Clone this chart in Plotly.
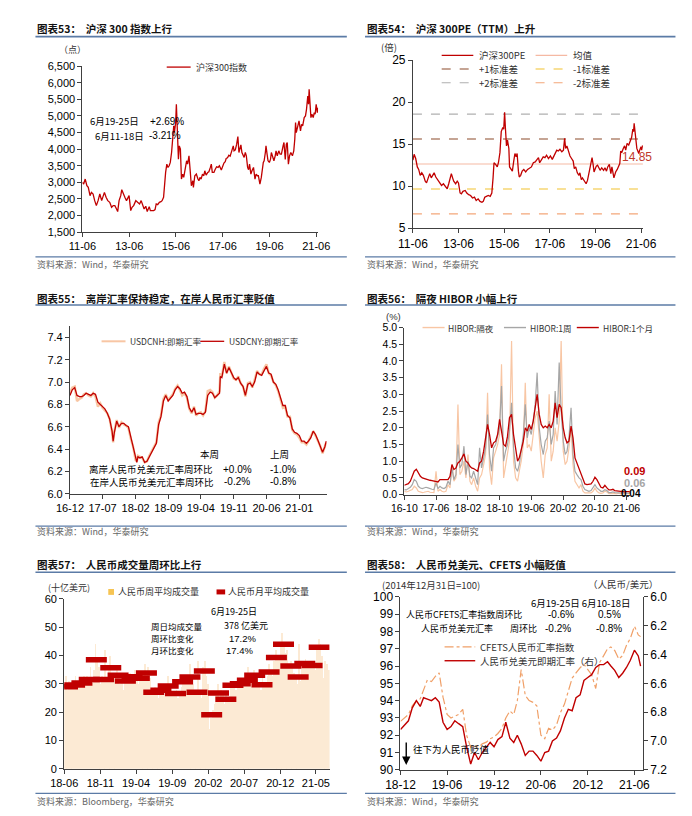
import plotly.graph_objects as go
import pandas as pd

W, H = 692, 816
def px(x): return x / W
def py(y): return 1 - y / H

# ================= DATA =================
# 图表53: 沪深300指数 (date, value)
CSI300 = [("2011-06-01",3000),("2011-06-20",2950),("2011-07-15",3100),("2011-08-10",2900),("2011-09-01",2850),("2011-09-28",2600),("2011-10-20",2700),("2011-11-15",2650),("2011-12-10",2450),("2012-01-05",2300),("2012-02-01",2450),("2012-02-28",2650),("2012-03-28",2450),("2012-04-25",2650),("2012-05-10",2700),("2012-06-05",2550),("2012-07-01",2450),("2012-08-01",2400),("2012-08-30",2250),("2012-09-25",2300),("2012-10-20",2300),("2012-11-15",2200),("2012-12-03",2120),("2012-12-25",2450),("2013-01-20",2600),("2013-02-05",2780),("2013-02-28",2650),("2013-03-25",2550),("2013-04-20",2450),("2013-05-15",2550),("2013-05-30",2600),("2013-06-25",2150),("2013-07-15",2250),("2013-08-10",2300),("2013-09-12",2450),("2013-10-10",2400),("2013-11-10",2350),("2013-12-05",2450),("2013-12-31",2300),("2014-01-20",2200),("2014-02-15",2280),("2014-03-10",2120),("2014-04-10",2270),("2014-04-28",2150),("2014-05-20",2150),("2014-06-20",2150),("2014-07-10",2180),("2014-07-28",2350),("2014-08-20",2330),("2014-09-15",2400),("2014-10-10",2420),("2014-10-28",2450),("2014-11-20",2550),("2014-12-08",3200),("2014-12-22",3300),("2015-01-10",3550),("2015-01-28",3450),("2015-02-15",3500),("2015-03-05",3600),("2015-03-25",3900),("2015-04-15",4400),("2015-04-28",4700),("2015-05-08",4500),("2015-05-28",4800),("2015-06-08",5350),("2015-06-20",4700),("2015-07-03",4050),("2015-07-10",3700),("2015-07-24",4100),("2015-08-10",4000),("2015-08-26",3100),("2015-09-15",3250),("2015-10-01",3150),("2015-10-28",3500),("2015-11-15",3650),("2015-12-01",3550),("2015-12-22",3800),("2016-01-08",3400),("2016-01-28",2900),("2016-02-20",3050),("2016-02-29",2850),("2016-03-22",3200),("2016-04-15",3250),("2016-05-10",3100),("2016-05-25",3050),("2016-06-10",3150),("2016-06-28",3100),("2016-07-20",3250),("2016-08-10",3200),("2016-08-25",3350),("2016-09-15",3220),("2016-10-10",3300),("2016-10-28",3320),("2016-11-20",3450),("2016-12-05",3550),("2016-12-20",3300),("2017-01-15",3300),("2017-02-01",3380),("2017-02-25",3470),("2017-03-20",3450),("2017-04-10",3500),("2017-05-10",3370),("2017-05-31",3480),("2017-06-20",3580),("2017-07-10",3620),("2017-07-25",3720),("2017-08-15",3740),("2017-09-05",3820),("2017-09-25",3790),("2017-10-20",3950),("2017-11-13",4100),("2017-11-25",3950),("2017-12-15",3980),("2018-01-05",4150),("2018-01-24",4380),("2018-02-09",3900),("2018-02-28",4050),("2018-03-12",4130),("2018-03-28",3900),("2018-04-15",3800),("2018-05-02",3750),("2018-05-20",3900),("2018-06-05",3800),("2018-06-25",3450),("2018-07-10",3380),("2018-07-25",3550),("2018-08-15",3250),("2018-09-01",3350),("2018-09-25",3450),("2018-10-18",3100),("2018-11-05",3250),("2018-11-25",3200),("2018-12-10",3200),("2019-01-03",2950),("2019-01-25",3150),("2019-02-25",3600),("2019-03-10",3650),("2019-03-29",3900),("2019-04-08",4100),("2019-04-25",3850),("2019-05-10",3650),("2019-05-31",3600),("2019-06-18",3700),("2019-07-01",3900),("2019-07-20",3800),("2019-08-10",3650),("2019-08-30",3800),("2019-09-12",3950),("2019-10-01",3800),("2019-10-25",3950),("2019-11-15",3850),("2019-12-05",3850),("2019-12-31",4100),("2020-01-14",4200),("2020-02-03",3690),("2020-02-20",4150),("2020-03-05",4200),("2020-03-23",3550),("2020-04-10",3800),("2020-04-30",3900),("2020-05-25",3800),("2020-06-15",3950),("2020-07-01",4300),("2020-07-13",4800),("2020-07-24",4500),("2020-08-20",4700),("2020-09-05",4850),("2020-09-28",4550),("2020-10-15",4750),("2020-11-01",4700),("2020-11-25",4950),("2020-12-15",5000),("2020-12-31",5200),("2021-01-20",5600),("2021-02-01",5350),("2021-02-10",5800),("2021-02-25",5300),("2021-03-10",4950),("2021-03-25",5050),("2021-04-15",4950),("2021-05-01",5100),("2021-05-15",5050),("2021-05-31",5350),("2021-06-10",5250),("2021-06-18",5100),("2021-06-25",5250)]
CSI_TICKS = ["2011-06-01","2013-06-01","2015-06-01","2017-06-01","2019-06-01","2021-06-01"]

# 图表54: 沪深300PE (date, value)
PE300 = [("2011-06-01",13.1),("2011-06-20",13.8),("2011-07-15",13.3),("2011-08-10",12.3),("2011-09-01",12.0),("2011-09-25",11.3),("2011-10-20",11.6),("2011-11-15",11.3),("2011-12-15",10.6),("2012-01-05",10.4),("2012-02-01",11.0),("2012-02-25",11.5),("2012-03-20",11.0),("2012-04-20",11.4),("2012-05-05",11.6),("2012-06-01",11.1),("2012-07-01",10.8),("2012-08-01",10.5),("2012-09-01",10.1),("2012-10-01",10.3),("2012-11-01",10.0),("2012-12-01",9.7),("2012-12-25",10.3),("2013-01-20",11.0),("2013-02-05",11.5),("2013-02-25",11.0),("2013-03-15",10.6),("2013-04-15",10.3),("2013-05-10",10.6),("2013-05-30",10.4),("2013-06-25",9.2),("2013-07-15",9.1),("2013-08-10",9.4),("2013-09-15",9.5),("2013-10-10",9.2),("2013-11-10",9.0),("2013-12-10",8.9),("2014-01-10",8.6),("2014-02-10",8.7),("2014-03-10",8.3),("2014-04-10",8.5),("2014-05-10",8.2),("2014-06-10",8.1),("2014-07-01",8.2),("2014-07-25",8.7),("2014-08-20",8.8),("2014-09-20",8.9),("2014-10-20",8.8),("2014-11-15",9.2),("2014-12-05",11.0),("2014-12-20",12.8),("2015-01-15",12.6),("2015-02-10",12.3),("2015-03-01",12.8),("2015-03-25",14.0),("2015-04-15",16.5),("2015-05-10",17.0),("2015-05-25",16.8),("2015-06-08",18.8),("2015-06-20",17.0),("2015-07-08",14.8),("2015-07-24",15.5),("2015-08-15",14.5),("2015-08-26",12.3),("2015-09-15",12.0),("2015-10-10",11.8),("2015-11-01",13.0),("2015-11-20",13.9),("2015-12-10",13.5),("2015-12-25",13.9),("2016-01-15",11.8),("2016-01-28",11.1),("2016-02-20",11.3),("2016-03-15",11.8),("2016-04-10",12.0),("2016-05-10",11.7),("2016-06-10",12.0),("2016-07-10",12.2),("2016-08-10",12.3),("2016-09-10",12.8),("2016-10-10",12.9),("2016-11-10",13.2),("2016-12-01",13.4),("2016-12-20",12.8),("2017-01-15",13.1),("2017-02-15",13.5),("2017-03-15",13.4),("2017-04-10",13.7),("2017-05-10",13.3),("2017-06-10",13.6),("2017-07-10",13.2),("2017-08-01",13.6),("2017-08-25",14.0),("2017-09-20",14.3),("2017-10-15",14.2),("2017-11-10",14.4),("2017-12-10",14.1),("2018-01-05",14.3),("2018-01-24",15.7),("2018-02-09",14.5),("2018-03-01",14.8),("2018-03-25",14.2),("2018-04-20",13.6),("2018-05-15",13.3),("2018-06-10",13.0),("2018-06-28",12.1),("2018-07-20",12.3),("2018-08-15",11.6),("2018-09-10",11.3),("2018-09-25",11.6),("2018-10-18",10.8),("2018-11-05",11.0),("2018-11-25",10.8),("2018-12-15",10.6),("2019-01-03",10.3),("2019-01-25",10.7),("2019-02-20",11.6),("2019-03-10",12.3),("2019-04-08",13.4),("2019-04-25",12.6),("2019-05-10",11.7),("2019-05-25",12.0),("2019-06-15",12.4),("2019-07-05",12.5),("2019-07-25",12.1),("2019-08-15",11.9),("2019-09-10",12.2),("2019-10-10",11.9),("2019-11-01",12.2),("2019-11-25",11.8),("2019-12-15",12.3),("2020-01-10",12.6),("2020-02-03",11.5),("2020-02-20",12.3),("2020-03-23",11.0),("2020-04-20",11.7),("2020-05-15",12.0),("2020-06-10",12.5),("2020-06-25",12.7),("2020-07-10",14.2),("2020-07-25",14.0),("2020-08-20",14.5),("2020-09-10",14.8),("2020-09-28",14.3),("2020-10-20",15.1),("2020-11-15",14.9),("2020-12-10",15.5),("2020-12-31",15.8),("2021-01-20",16.8),("2021-02-01",16.5),("2021-02-10",17.5),("2021-02-25",16.2),("2021-03-10",15.2),("2021-03-25",14.5),("2021-04-10",14.2),("2021-04-25",13.9),("2021-05-10",14.3),("2021-05-31",14.7),("2021-06-10",14.3),("2021-06-25",14.85)]
PE_MEAN = 12.65
PE_SD = 2.97
PE_LAST_LABEL = "14.85"

# 图表55: (date, USDCNY, USDCNH)
FX55 = [("2016-12-01",6.88,6.90),("2016-12-16",6.93,6.95),("2017-01-01",6.95,6.96),("2017-01-16",6.88,6.83),("2017-02-01",6.87,6.85),("2017-02-16",6.87,6.86),("2017-03-01",6.88,6.89),("2017-03-16",6.90,6.90),("2017-04-01",6.89,6.88),("2017-04-16",6.88,6.87),("2017-05-01",6.90,6.90),("2017-05-16",6.89,6.87),("2017-06-01",6.82,6.78),("2017-06-16",6.80,6.81),("2017-07-01",6.78,6.77),("2017-07-16",6.76,6.75),("2017-08-01",6.72,6.72),("2017-08-16",6.67,6.67),("2017-09-01",6.56,6.55),("2017-09-08",6.47,6.46),("2017-09-16",6.55,6.56),("2017-10-01",6.65,6.66),("2017-10-16",6.60,6.59),("2017-11-01",6.63,6.64),("2017-11-16",6.63,6.62),("2017-12-01",6.61,6.61),("2017-12-16",6.60,6.59),("2018-01-01",6.50,6.49),("2018-01-16",6.43,6.42),("2018-02-01",6.31,6.30),("2018-02-09",6.28,6.29),("2018-02-16",6.33,6.34),("2018-03-01",6.32,6.33),("2018-03-16",6.33,6.32),("2018-04-01",6.28,6.28),("2018-04-16",6.29,6.29),("2018-05-01",6.33,6.34),("2018-05-16",6.37,6.38),("2018-06-01",6.40,6.41),("2018-06-16",6.45,6.46),("2018-07-01",6.62,6.64),("2018-07-16",6.69,6.70),("2018-08-01",6.83,6.85),("2018-08-16",6.88,6.89),("2018-09-01",6.83,6.84),("2018-09-16",6.86,6.87),("2018-10-01",6.88,6.89),("2018-10-16",6.93,6.94),("2018-11-01",6.96,6.97),("2018-11-16",6.94,6.93),("2018-12-01",6.90,6.88),("2018-12-16",6.91,6.90),("2019-01-01",6.87,6.86),("2019-01-16",6.77,6.76),("2019-02-01",6.73,6.72),("2019-02-16",6.77,6.78),("2019-03-01",6.71,6.70),("2019-03-16",6.72,6.72),("2019-04-01",6.72,6.73),("2019-04-16",6.71,6.70),("2019-05-01",6.73,6.74),("2019-05-16",6.88,6.92),("2019-06-01",6.91,6.93),("2019-06-16",6.90,6.91),("2019-07-01",6.86,6.86),("2019-07-16",6.88,6.88),("2019-08-01",6.90,6.92),("2019-08-06",7.05,7.08),("2019-08-16",7.04,7.05),("2019-09-01",7.16,7.18),("2019-09-16",7.08,7.08),("2019-10-01",7.13,7.14),("2019-10-16",7.09,7.08),("2019-11-01",7.04,7.03),("2019-11-16",7.02,7.02),("2019-12-01",7.04,7.05),("2019-12-16",6.99,6.99),("2020-01-01",6.96,6.96),("2020-01-16",6.88,6.87),("2020-02-01",6.98,6.99),("2020-02-16",6.99,7.00),("2020-03-01",6.96,6.95),("2020-03-16",7.00,7.02),("2020-04-01",7.09,7.10),("2020-04-16",7.07,7.07),("2020-05-01",7.06,7.07),("2020-05-16",7.10,7.12),("2020-06-01",7.14,7.16),("2020-06-16",7.08,7.08),("2020-07-01",7.07,7.06),("2020-07-16",7.00,7.00),("2020-08-01",6.98,6.97),("2020-08-16",6.93,6.92),("2020-09-01",6.85,6.83),("2020-09-16",6.79,6.77),("2020-10-01",6.79,6.78),("2020-10-16",6.70,6.69),("2020-11-01",6.68,6.69),("2020-11-16",6.58,6.57),("2020-12-01",6.55,6.54),("2020-12-16",6.54,6.53),("2021-01-01",6.52,6.50),("2021-01-16",6.47,6.46),("2021-02-01",6.47,6.46),("2021-02-16",6.45,6.44),("2021-03-01",6.47,6.47),("2021-03-16",6.50,6.51),("2021-04-01",6.56,6.56),("2021-04-16",6.53,6.52),("2021-05-01",6.48,6.48),("2021-05-16",6.43,6.43),("2021-06-01",6.37,6.36),("2021-06-16",6.42,6.42),("2021-06-25",6.47,6.46)]
FX55_TICKS = ["2016-12-01","2017-07-01","2018-02-01","2018-09-01","2019-04-01","2019-11-01","2020-06-01","2021-01-01"]

# 图表56: HIBOR (date, 隔夜, 1周, 1个月)
HIBOR = [("2016-10-01",0.10,0.15,0.28),("2016-10-16",0.08,0.14,0.30),("2016-11-01",0.10,0.18,0.33),("2016-11-16",0.12,0.22,0.40),("2016-12-01",0.15,0.30,0.55),("2016-12-16",0.25,0.45,0.70),("2017-01-01",0.20,0.40,0.76),("2017-01-16",0.10,0.25,0.65),("2017-02-01",0.08,0.20,0.55),("2017-02-16",0.06,0.18,0.50),("2017-03-01",0.07,0.20,0.48),("2017-03-16",0.08,0.22,0.47),("2017-04-01",0.10,0.20,0.45),("2017-04-16",0.07,0.17,0.43),("2017-05-01",0.06,0.16,0.42),("2017-05-16",0.06,0.15,0.40),("2017-06-01",0.70,0.35,0.40),("2017-06-16",0.10,0.18,0.38),("2017-07-01",0.15,0.25,0.45),("2017-07-16",0.10,0.20,0.45),("2017-08-01",0.08,0.18,0.44),("2017-08-16",0.10,0.22,0.45),("2017-09-01",0.30,0.40,0.45),("2017-09-16",0.20,0.30,0.55),("2017-10-01",0.90,0.80,0.90),("2017-10-16",0.40,0.45,0.75),("2017-11-01",0.50,0.60,0.80),("2017-11-16",2.70,1.50,0.95),("2017-12-01",0.60,0.80,1.00),("2017-12-16",0.70,0.90,1.10),("2018-01-01",1.00,1.45,1.22),("2018-01-16",0.50,0.60,1.00),("2018-02-01",1.20,1.00,0.95),("2018-02-16",0.40,0.55,0.85),("2018-03-01",0.30,0.50,0.80),("2018-03-16",0.50,0.70,0.78),("2018-04-01",0.25,0.45,0.75),("2018-04-16",0.10,0.30,0.70),("2018-05-01",0.50,1.40,0.95),("2018-05-16",0.60,0.80,1.00),("2018-06-01",0.90,1.10,1.30),("2018-06-16",1.20,1.40,1.70),("2018-07-01",3.05,2.40,2.10),("2018-07-16",0.80,1.20,1.80),("2018-08-01",0.30,0.70,1.40),("2018-08-16",1.10,1.40,1.55),("2018-09-01",1.30,1.50,1.60),("2018-09-16",1.50,1.80,1.80),("2018-10-01",1.80,2.00,2.25),("2018-10-16",3.90,3.25,1.90),("2018-11-01",0.50,1.00,1.50),("2018-11-16",0.90,1.30,1.45),("2018-12-01",1.20,1.50,1.75),("2018-12-16",1.60,1.90,2.30),("2019-01-01",4.60,2.75,2.40),("2019-01-16",1.00,1.40,1.80),("2019-02-01",0.50,0.80,1.30),("2019-02-16",0.40,0.70,1.00),("2019-03-01",0.70,0.90,1.10),("2019-03-16",1.00,1.30,1.35),("2019-04-01",1.50,1.80,1.60),("2019-04-16",3.35,2.70,2.00),("2019-05-01",1.40,1.70,1.90),("2019-05-16",1.50,2.00,2.10),("2019-06-01",1.30,1.80,1.95),("2019-06-16",1.80,2.20,2.20),("2019-07-01",2.30,2.70,2.60),("2019-07-16",2.50,3.65,3.00),("2019-08-01",1.60,2.00,2.40),("2019-08-16",1.00,1.50,2.10),("2019-09-01",0.50,1.20,2.00),("2019-09-16",1.20,1.60,2.05),("2019-10-01",1.40,1.70,2.00),("2019-10-16",3.00,2.20,2.10),("2019-11-01",1.00,1.50,2.00),("2019-11-16",1.30,1.80,2.20),("2019-12-01",2.00,3.10,2.75),("2019-12-16",1.60,2.10,2.30),("2020-01-01",2.20,3.95,2.70),("2020-01-16",4.60,2.50,2.60),("2020-02-01",1.30,1.60,2.00),("2020-02-16",0.90,1.20,1.70),("2020-03-01",1.00,1.30,1.55),("2020-03-16",1.40,1.70,1.60),("2020-04-01",2.00,2.60,2.05),("2020-04-16",0.90,1.20,1.70),("2020-05-01",0.40,0.70,1.10),("2020-05-16",0.30,0.60,0.95),("2020-06-01",0.20,0.50,0.80),("2020-06-16",0.30,0.45,0.65),("2020-07-01",0.10,0.25,0.45),("2020-07-16",0.05,0.15,0.32),("2020-08-01",0.05,0.12,0.30),("2020-08-16",0.04,0.10,0.30),("2020-09-01",0.05,0.12,0.32),("2020-09-16",0.10,0.20,0.40),("2020-10-01",0.20,0.30,0.52),("2020-10-16",0.10,0.20,0.45),("2020-11-01",0.05,0.15,0.35),("2020-11-16",0.04,0.10,0.22),("2020-12-01",0.05,0.10,0.20),("2020-12-16",0.10,0.15,0.28),("2021-01-01",0.08,0.12,0.20),("2021-01-16",0.03,0.06,0.14),("2021-02-01",0.03,0.06,0.14),("2021-02-16",0.05,0.08,0.16),("2021-03-01",0.03,0.06,0.12),("2021-03-16",0.02,0.05,0.11),("2021-04-01",0.04,0.06,0.12),("2021-04-16",0.02,0.05,0.10),("2021-05-01",0.03,0.05,0.10),("2021-05-16",0.02,0.04,0.08),("2021-06-01",0.03,0.05,0.09),("2021-06-16",0.02,0.04,0.08),("2021-06-25",0.04,0.06,0.09)]
HIBOR_TICKS = ["2016-10-01","2017-06-01","2018-02-01","2018-10-01","2019-06-01","2020-02-01","2020-10-01","2021-06-01"]
HIBOR_LAST = ["0.09", "0.06", "0.04"]

# 图表57: 人民币周平均成交量 (weekly from 2018-06-01) and 月平均成交量
VOL_START = "2018-06-01"
VOL_WEEKLY = [30,33,28,31, 29,31,30,33,31, 29,32,31,33,30, 33,30,36,31, 35,44,38,36, 30,33,31,42,32, 36,40,34,31,
              33,35,32,30,34, 28,33,31,32, 34,32,31,35,33, 30,33,34,31, 37,33,36,32, 28,26,29,27,25, 27,30,28,26,
              30,33,28,29, 27,26,28,25,27, 29,33,31,30, 32,37,31,30, 28,26,38,27,25,
              36,38,33,30, 14,18,21,23, 26,30,25,28,27, 23,26,25,24, 29,30,31,28, 30,32,29,31,30,
              31,36,30,33, 33,35,32,34, 30,28,32,29,30, 33,37,34,33, 38,42,40,39, 45,48,44,41,42,
              36,38,37,34, 33,30,44,31, 38,36,39,37,36, 37,36,38,35, 42,46,44,40, 32,38,37,35]
VOL_MONTHS = ["2018-06-15","2018-07-15","2018-08-15","2018-09-15","2018-10-15","2018-11-15","2018-12-15",
              "2019-01-15","2019-02-15","2019-03-15","2019-04-15","2019-05-15","2019-06-15","2019-07-15",
              "2019-08-15","2019-09-15","2019-10-15","2019-11-15","2019-12-15","2020-01-15","2020-02-15",
              "2020-03-15","2020-04-15","2020-05-15","2020-06-15","2020-07-15","2020-08-15","2020-09-15",
              "2020-10-15","2020-11-15","2020-12-15","2021-01-15","2021-02-15","2021-03-15","2021-04-15","2021-05-15"]
VOL_MONTHLY = [29.0,29.6,30.3,31.5,38.5,31.5,35.7,33.0,31.0,32.5,32.0,33.8,27.0,27.7,29.2,26.6,30.7,32.4,
               27.0,34.5,19.1,26.8,24.6,29.5,30.0,31.3,33.0,29.7,34.2,39.3,44.0,36.3,32.4,37.2,36.5,42.9]
VOL_TICKS = ["2018-06-01","2018-11-01","2019-04-01","2019-09-01","2020-02-01","2020-07-01","2020-12-01","2021-05-01"]

# 图表58: (date, CFETS index, USDCNY)
CFETS = [("2018-12-01",92.8,6.92),("2018-12-16",93.0,6.89),("2019-01-01",93.2,6.86),("2019-01-16",93.7,6.77),("2019-02-01",94.0,6.72),("2019-02-16",94.1,6.76),("2019-03-01",94.6,6.70),("2019-03-16",95.2,6.71),("2019-04-01",95.1,6.72),("2019-04-16",95.4,6.70),("2019-05-01",95.6,6.73),("2019-05-16",94.2,6.87),("2019-06-01",93.2,6.92),("2019-06-16",93.0,6.90),("2019-07-01",93.1,6.86),("2019-07-16",93.2,6.88),("2019-08-01",93.5,6.90),("2019-08-16",92.0,7.04),("2019-09-01",91.3,7.16),("2019-09-16",91.4,7.08),("2019-10-01",91.3,7.13),("2019-10-16",91.5,7.08),("2019-11-01",91.6,7.04),("2019-11-16",91.8,7.01),("2019-12-01",91.9,7.04),("2019-12-16",92.1,6.99),("2020-01-01",92.4,6.97),("2020-01-16",93.0,6.87),("2020-02-01",93.4,6.98),("2020-02-16",93.2,7.01),("2020-03-01",94.0,6.96),("2020-03-16",95.8,7.02),("2020-04-01",94.3,7.10),("2020-04-16",94.0,7.07),("2020-05-01",93.9,7.07),("2020-05-16",93.7,7.10),("2020-06-01",92.0,7.14),("2020-06-16",91.8,7.08),("2020-07-01",92.4,7.07),("2020-07-16",92.3,7.00),("2020-08-01",92.6,6.98),("2020-08-16",93.3,6.93),("2020-09-01",93.8,6.84),("2020-09-16",94.6,6.78),("2020-10-01",95.3,6.79),("2020-10-16",95.6,6.70),("2020-11-01",95.9,6.68),("2020-11-16",96.1,6.58),("2020-12-01",95.8,6.56),("2020-12-16",95.5,6.54),("2021-01-01",94.7,6.49),("2021-01-16",96.2,6.47),("2021-02-01",96.6,6.47),("2021-02-16",97.0,6.45),("2021-03-01",97.1,6.48),("2021-03-16",96.9,6.51),("2021-04-01",96.4,6.56),("2021-04-16",96.6,6.53),("2021-05-01",97.2,6.49),("2021-05-16",97.6,6.44),("2021-06-01",98.3,6.37),("2021-06-16",97.8,6.41),("2021-06-25",97.7,6.48)]
CFETS_TICKS = ["2018-12-01","2019-06-01","2019-12-01","2020-06-01","2020-12-01","2021-06-01"]

# ================= STYLE =================
FONT = "'Liberation Sans', Arial, 'Noto Sans CJK SC', sans-serif"
CJK = "'Noto Sans CJK SC', 'Liberation Sans', sans-serif"
RED = "#C00000"
PEACH = "#F8C6A4"
GRAY = "#A6A6A6"
AXC = "#404040"
RULE = "#5B7BA6"

fig = go.Figure()

def xax(x0, x1, rng, ticks, anchor, size=11):
    return dict(domain=[px(x0), px(x1)], type="date", range=rng, tickvals=ticks, tickformat="%y-%m",
                showgrid=False, zeroline=False, showline=True, linecolor=AXC, linewidth=1,
                ticks="outside", ticklen=4, tickcolor=AXC, anchor=anchor,
                tickfont=dict(size=size, color="#000", family=FONT))

def yax(top, bottom, rng, dtick, fmt, anchor, size=11, **kw):
    d = dict(domain=[py(bottom), py(top)], range=rng, dtick=dtick, tickformat=fmt,
             showgrid=False, zeroline=False, showline=True, linecolor=AXC, linewidth=1,
             ticks="outside", ticklen=4, tickcolor=AXC, anchor=anchor,
             tickfont=dict(size=size, color="#000", family=FONT))
    d.update(kw)
    return d

# ---- Panel 53
d, v = zip(*CSI300)
fig.add_trace(go.Scatter(x=d, y=v, mode="lines", line=dict(color=RED, width=1.3), xaxis="x", yaxis="y"))

# ---- Panel 54
d, v = zip(*PE300)
fig.add_trace(go.Scatter(x=d, y=v, mode="lines", line=dict(color=RED, width=1.3), xaxis="x2", yaxis="y2"))

# ---- Panel 55
d, cny, cnh = zip(*FX55)
fig.add_trace(go.Scatter(x=d, y=cnh, mode="lines", line=dict(color=PEACH, width=2.4), xaxis="x3", yaxis="y3"))
fig.add_trace(go.Scatter(x=d, y=cny, mode="lines", line=dict(color=RED, width=1.3), xaxis="x3", yaxis="y3"))

# ---- Panel 56
d, on, w1, m1 = zip(*HIBOR)
fig.add_trace(go.Scatter(x=d, y=on, mode="lines", line=dict(color=PEACH, width=1.2), xaxis="x4", yaxis="y4"))
fig.add_trace(go.Scatter(x=d, y=w1, mode="lines", line=dict(color=GRAY, width=1.2), xaxis="x4", yaxis="y4"))
fig.add_trace(go.Scatter(x=d, y=m1, mode="lines", line=dict(color=RED, width=1.3), xaxis="x4", yaxis="y4"))

# ---- Panel 57
wk_dates = pd.date_range(VOL_START, periods=len(VOL_WEEKLY), freq="7D")
fig.add_trace(go.Bar(x=wk_dates, y=VOL_WEEKLY, marker=dict(color="#FCEAD4", line=dict(width=0)),
                     width=3.5 * 86400000, xaxis="x5", yaxis="y5"))
fig.add_trace(go.Scatter(x=VOL_MONTHS, y=VOL_MONTHLY, mode="markers",
                         marker=dict(symbol="line-ew", size=15, line=dict(width=5.5, color=RED)),
                         xaxis="x5", yaxis="y5"))

# ---- Panel 58
d, cf, usd = zip(*CFETS)
fig.add_trace(go.Scatter(x=d, y=cf, mode="lines", line=dict(color="#F0A068", width=1.2, dash="dashdot"),
                         xaxis="x6", yaxis="y6"))
fig.add_trace(go.Scatter(x=d, y=usd, mode="lines", line=dict(color=RED, width=1.4), xaxis="x6", yaxis="y7"))

fig.update_layout(
    width=W, height=H, margin=dict(l=0, r=0, t=0, b=0), paper_bgcolor="white", plot_bgcolor="white",
    showlegend=False, bargap=0,
    xaxis=xax(62, 308, ["2011-06-01", "2021-06-30"], CSI_TICKS, "y"),
    yaxis=yax(52, 221, [1500, 6500], 500, ",", "x"),
    xaxis2=xax(407, 647, ["2011-06-01", "2021-06-30"], CSI_TICKS, "y2", size=12),
    yaxis2=yax(46, 217, [5, 25], 5, "d", "x2", size=12),
    xaxis3=xax(49, 317, ["2016-12-01", "2021-06-28"], FX55_TICKS, "y3"),
    yaxis3=yax(316.7, 487, [6.0, 7.5], None, ".1f", "x3", tickvals=[6.0, 6.2, 6.4, 6.6, 6.8, 7.0, 7.2, 7.4]),
    xaxis4=xax(398, 634, ["2016-10-01", "2021-06-30"], HIBOR_TICKS, "y4", size=10.5),
    yaxis4=yax(318, 488, [0, 5], 0.5, ".1f", "x4", size=10.5),
    xaxis5=xax(43, 320, ["2018-06-01", "2021-06-28"], VOL_TICKS, "y5"),
    yaxis5=yax(594, 767, [0, 60], 10, "d", "x5"),
    xaxis6=xax(394, 647, ["2018-12-01", "2021-07-04"], CFETS_TICKS, "y6", size=12),
    yaxis6=yax(592, 768, [90, 100], 1, "d", "x6", size=12),
    yaxis7=yax(592, 768, [7.2, 6.0], None, ".1f", "x6", size=12, overlaying="y6", side="right",
               tickvals=[6.0, 6.2, 6.4, 6.6, 6.8, 7.0, 7.2]),
)

shapes = []
ann = []

def text(x, y, s, size=10, color="#000", anchor="left", font=CJK, bold=False):
    ann.append(dict(x=px(x), y=py(y), xref="paper", yref="paper", text=("<b>%s</b>" % s) if bold else s,
                    showarrow=False, xanchor=anchor, yanchor="middle",
                    font=dict(size=size, color=color, family=font)))

def hline(x0, x1, y, color, width=1.2, dash="solid"):
    shapes.append(dict(type="line", xref="paper", yref="paper", x0=px(x0), x1=px(x1), y0=py(y), y1=py(y),
                       line=dict(color=color, width=width, dash=dash)))

# Titles, rules, sources
TITLES = [
    (13, 14, 22, 246, 254, 338, "图表53：  沪深 300 指数上行", "资料来源：Wind，华泰研究"),
    (357, 14, 22, 246, 254, 681, "图表54：  沪深 300PE（TTM）上升", "资料来源：Wind，华泰研究"),
    (13, 288, 295, 520, 526, 338, "图表55：  离岸汇率保持稳定，在岸人民币汇率贬值", "资料来源：Wind，华泰研究"),
    (357, 288, 295, 520, 526, 681, "图表56：  隔夜 HIBOR 小幅上行", "资料来源：Wind，华泰研究"),
    (13, 559, 567, 792, 800, 338, "图表57：  人民币成交量周环比上行", "资料来源：Bloomberg，华泰研究"),
    (357, 559, 567, 792, 800, 681, "图表58：  人民币兑美元、CFETS 小幅贬值", "资料来源：Wind，华泰研究"),
]
for x0, ty, ly, fy, sy, x1, t, s in TITLES:
    text(x0, ty, t, size=10.5, color="#111", bold=True)
    hline(x0, x1, ly, RULE, width=1.6)
    hline(x0, x1, fy, RULE, width=1.2)
    text(x0, sy, s, size=9, color="#666")

# ---- Panel 53 texts
text(35, 35, "（点）", size=9, color="#333")
hline(150, 175, 53, RED, width=1.3)
text(178, 53, "沪深300指数", size=9, color="#333")
text(68, 108, "6月19-25日", size=9.5)
text(130, 108, "+2.69%", size=10, font=FONT)
text(73, 123, "6月11-18日", size=9.5)
text(129, 123, "-3.21%", size=10, font=FONT)

# ---- Panel 54 texts
text(372, 33, "(倍)", size=9.5, color="#333")
leg54 = [(437, 41, RED, "solid", 1.3, "沪深300PE"), (535, 41, "#F5B9A3", "solid", 1.3, "均值"),
         (437, 55, "#8B4A2B", "dash", 1.1, "+1标准差"), (535, 55, "#F2C12E", "dash", 1.1, "-1标准差"),
         (437, 69, "#B0B0B0", "dash", 1.1, "+2标准差"), (535, 69, "#F4A77A", "dash", 1.1, "-2标准差")]
for lx, ly, c, ds, wd, lab in leg54:
    hline(lx, lx + 33, ly, c, width=wd, dash=ds)
    text(lx + 37, ly, lab, size=9.5, color="#333")
pe_lines = [(PE_MEAN, "#F5B9A3", "solid"), (PE_MEAN + PE_SD, "#8B4A2B", "dash"),
            (PE_MEAN - PE_SD, "#F2C12E", "dash"), (PE_MEAN + 2 * PE_SD, "#B0B0B0", "dash"),
            (PE_MEAN - 2 * PE_SD, "#F4A77A", "dash")]
for val, c, ds in pe_lines:
    shapes.append(dict(type="line", xref="x2 domain", yref="y2", x0=0, x1=1, y0=val, y1=val,
                       line=dict(color=c, width=1.1, dash=ds), layer="below"))
text(641, 144, PE_LAST_LABEL, size=12, color="#C0392B", anchor="center", font=FONT)

# ---- Panel 55 texts
hline(82, 107, 332, PEACH, width=2)
text(110, 332, "USDCNH:即期汇率", size=8.5, color="#333")
hline(185, 210, 332, RED, width=1.3)
text(213, 332, "USDCNY:即期汇率", size=8.5, color="#333")
text(195, 447, "本周", size=9.5, anchor="center")
text(268, 447, "上周", size=9.5, anchor="center")
text(67, 462, "离岸人民币兑美元汇率周环比", size=9.5)
text(224, 462, "+0.0%", size=10, anchor="center", font=FONT)
text(271, 462, "-1.0%", size=10, anchor="center", font=FONT)
text(68, 475, "在岸人民币兑美元汇率周环比", size=9.5)
text(223, 475, "-0.2%", size=10, anchor="center", font=FONT)
text(271, 475, "-0.8%", size=10, anchor="center", font=FONT)

# ---- Panel 56 texts
text(377, 307, "(%)", size=9.5, color="#333", font=FONT)
for lx, c, lab in [(417, PEACH, "HIBOR:隔夜"), (502, GRAY, "HIBOR:1周"), (578, RED, "HIBOR:1个月")]:
    hline(lx, lx + 23, 318, c, width=1.4)
    text(lx + 25, 318, lab, size=8.5, color="#333")
text(638, 464, HIBOR_LAST[0], size=11, color=RED, anchor="center", font=FONT, bold=True)
text(638, 476, HIBOR_LAST[1], size=11, color=GRAY, anchor="center", font=FONT, bold=True)
text(635, 487, HIBOR_LAST[2], size=10, color="#000", anchor="center", font=FONT, bold=True)

# ---- Panel 57 texts
text(24, 583, "(十亿美元)", size=9, color="#333")
shapes.append(dict(type="rect", xref="paper", yref="paper", x0=px(89), x1=px(95), y0=py(590), y1=py(584),
                   fillcolor="#F6C453", line=dict(width=0)))
text(97, 587, "人民币周平均成交量", size=9, color="#333")
hline(202, 211, 587, RED, width=5)
text(212, 587, "人民币月平均成交量", size=9, color="#333")
text(220, 607, "6月19-25日", size=9, anchor="center")
text(132, 621.5, "周日均成交量", size=8.5)
text(208, 621.5, "378 亿美元", size=9)
text(132, 634, "周环比变化", size=8.5)
text(213, 634, "17.2%", size=9.5, font=FONT)
text(132, 646.5, "月环比变化", size=8.5)
text(210, 646.5, "17.4%", size=9.5, font=FONT)

# ---- Panel 58 texts
text(373, 580, "(2014年12月31日=100)", size=9.5, color="#333")
text(665, 579, "（人民币/美元）", size=9.5, color="#333", anchor="right")
text(528, 598, "6月19-25日 6月10-18日", size=9.5)
text(398, 610, "人民币CFETS汇率指数周环比", size=9)
text(562, 610, "-0.6%", size=10, anchor="center", font=FONT)
text(612, 610, "0.5%", size=10, anchor="center", font=FONT)
text(413, 624, "人民币兑美元汇率", size=9)
text(506, 624, "周环比", size=9)
text(558, 624, "-0.2%", size=10, anchor="center", font=FONT)
text(612, 624, "-0.8%", size=10, anchor="center", font=FONT)
hline(440, 472, 643, "#F0A068", width=1.2, dash="dashdot")
text(475, 643, "CFETS人民币汇率指数", size=9.5, color="#333")
hline(440, 472, 657, RED, width=1.4)
text(475, 657, "人民币兑美元即期汇率（右）", size=9.5, color="#333")
ann.append(dict(x=px(400), y=py(763), xref="paper", yref="paper", ax=0, ay=-24, axref="pixel", ayref="pixel",
                text="", showarrow=True, arrowhead=2, arrowsize=1.2, arrowwidth=1.4, arrowcolor="#000"))
text(405, 747, "往下为人民币贬值", size=9.5)

fig.update_layout(shapes=shapes, annotations=ann)
fig.write_html("out.html")
